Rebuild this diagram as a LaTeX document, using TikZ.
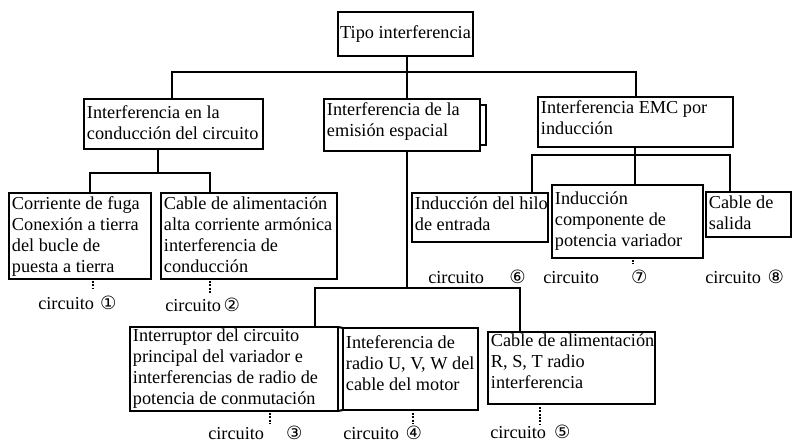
\documentclass[tikz,border=0pt]{standalone}
\usepackage{fontspec}
\setmainfont{Liberation Serif}
\newfontfamily\simbolo{DejaVu Sans}
\usepackage{tikz}
\usetikzlibrary{positioning, calc}

\begin{document}
\begin{tikzpicture}[x=0.75pt, y=-0.75pt,
    caja/.style 2 args = {draw, line width=1.6pt, outer sep=0pt, inner sep=0pt, anchor=north west, minimum width=#1*0.75pt, minimum height=#2*0.75pt},
    texto/.style = {anchor=north west, align=left, inner xsep=2pt, inner ysep=2.5pt, execute at begin node={\rule{0pt}{10pt}}, font=\fontsize{13.7}{15.75}\selectfont},
    etiqueta/.style = {anchor=west, inner sep=0pt, font=\fontsize{13.7}{15.75}\selectfont},
    rama/.style = {line width=1.5pt},
    punteo/.style = {line width=1.5pt, densely dotted}]
    \useasboundingbox (0,0) rectangle (793,444);

    % cajas
    \node[caja={135}{44}, font=\fontsize{13.7}{15.75}\selectfont] (tipo) at (338,12) {Tipo interferencia};
    \node[caja={179}{50}] (conduccion) at (84,99) {};
    \node[caja={156}{52}] (emision) at (324,99) {};
    \node[caja={195}{50}] (emc) at (538,97) {};
    \node[caja={142}{86}] (fuga) at (9,193) {};
    \node[caja={176}{86}] (armonica) at (161,193) {};
    \node[caja={208}{84}] (conmutacion) at (130,327) {};
    \node[caja={135}{82}] (motor) at (343,328) {};
    \node[caja={167}{72}] (rst) at (488,332) {};
    \node[caja={136}{49}] (hilo) at (412,193) {};
    \node[caja={151}{73}] (componente) at (552,185) {};
    \node[caja={85}{45}] (salida) at (706,192) {};

    % textos
    \node[texto, yshift=-2.25pt] (t-conduccion) at (conduccion.north west) {Interferencia en la\\conducción del circuito};
    \node[texto] (t-emision) at (emision.north west) {Interferencia de la\\emisión espacial};
    \node[texto] (t-emc) at (emc.north west) {Interferencia EMC por\\inducción};
    \node[texto] (t-fuga) at (fuga.north west) {Corriente de fuga\\Conexión a tierra\\del bucle de\\puesta a tierra};
    \node[texto] (t-armonica) at (armonica.north west) {Cable de alimentación\\alta corriente armónica\\interferencia de\\conducción};
    \node[texto, yshift=1.5pt] (t-conmutacion) at (conmutacion.north west) {Interruptor del circuito\\principal del variador e\\interferencias de radio de\\potencia de conmutación};
    \node[texto, yshift=-3pt] (t-motor) at (motor.north west) {Inteferencia de\\radio U, V, W del\\cable del motor};
    \node[texto, yshift=1.5pt] (t-rst) at (rst.north west) {Cable de alimentación\\R, S, T radio\\interferencia};
    \node[texto] (t-hilo) at (hilo.north west) {Inducción del hilo\\de entrada};
    \node[texto, yshift=-2.25pt] (t-componente) at (componente.north west) {Inducción\\componente de\\potencia variador};
    \node[texto] (t-salida) at (salida.north west) {Cable de\\salida};

    % ramas
    \coordinate (n0) at (407,72);
    \coordinate (n1) at (172,72);
    \coordinate (n2) at (636,72);
    \draw[rama] (tipo.south -| n0) -- (emision.north -| n0);
    \draw[rama] (conduccion.north -| n1) |- (n2) -- (emc.north -| n2);

    \coordinate (c0) at (158,173);
    \coordinate (c1) at (90,173);
    \coordinate (c2) at (210,173);
    \draw[rama] (conduccion.south -| c0) -- (c0);
    \draw[rama] (fuga.north -| c1) |- (c2) -- (armonica.north -| c2);

    \coordinate (e0) at (407,288);
    \coordinate (e1) at (315,288);
    \coordinate (e2) at (520,288);
    \draw[rama] (emision.south -| e0) -- (e0);
    \draw[rama] (conmutacion.north -| e1) |- (e2) -- (rst.north -| e2);
    \draw[rama] (conmutacion.north east) -- (motor.north west);
    \draw[rama] (conmutacion.south east) -- (motor.south west);

    \coordinate (m0) at (635,155);
    \coordinate (m1) at (532,155);
    \coordinate (m2) at (730,155);
    \draw[rama] (emc.south -| m0) -- (m0);
    \draw[rama] (hilo.north -| m1) |- (m2) -- (salida.north -| m2);
    \draw[rama] (m0) -- (componente.north -| m0);

    % doble borde
    \draw[line width=1.2pt] ($(emision.north east)+(0,6)$) -| ($(emision.south east)+(6,-6)$) -- ($(emision.south east)+(0,-6)$);

    % puntos
    \draw[punteo] ($(fuga.south)+(13,2)$) -- ++(0,8);
    \draw[punteo] ($(armonica.south)+(-39,2)$) -- ++(0,12);
    \draw[punteo] ($(conmutacion.south)+(36,2)$) -- ++(0,11);
    \draw[punteo] ($(motor.south)+(2,3)$) -- ++(0,11);
    \draw[punteo] ($(rst.south)+(-32,3)$) -- ++(0,17);
    \draw[punteo] ($(componente.south)+(5,2)$) -- ++(0,4);

    % circuitos
    \node[etiqueta] (c-1) at (38,303) {circuito\hspace{4.5pt}{\simbolo ①}};
    \node[etiqueta] (c-2) at (165,305) {circuito\hspace{2pt}{\simbolo ②}};
    \node[etiqueta] (c-3) at (208,433) {circuito\hspace{16.5pt}{\simbolo ③}};
    \node[etiqueta] (c-4) at (343,433) {circuito\hspace{5pt}{\simbolo ④}};
    \node[etiqueta] (c-5) at (490,432) {circuito\hspace{6pt}{\simbolo ⑤}};
    \node[etiqueta] (c-6) at (428,277) {circuito\hspace{19pt}{\simbolo ⑥}};
    \node[etiqueta] (c-7) at (543,277) {circuito\hspace{24pt}{\simbolo ⑦}};
    \node[etiqueta] (c-8) at (705,277) {circuito\hspace{5pt}{\simbolo ⑧}};
\end{tikzpicture}
\end{document}
